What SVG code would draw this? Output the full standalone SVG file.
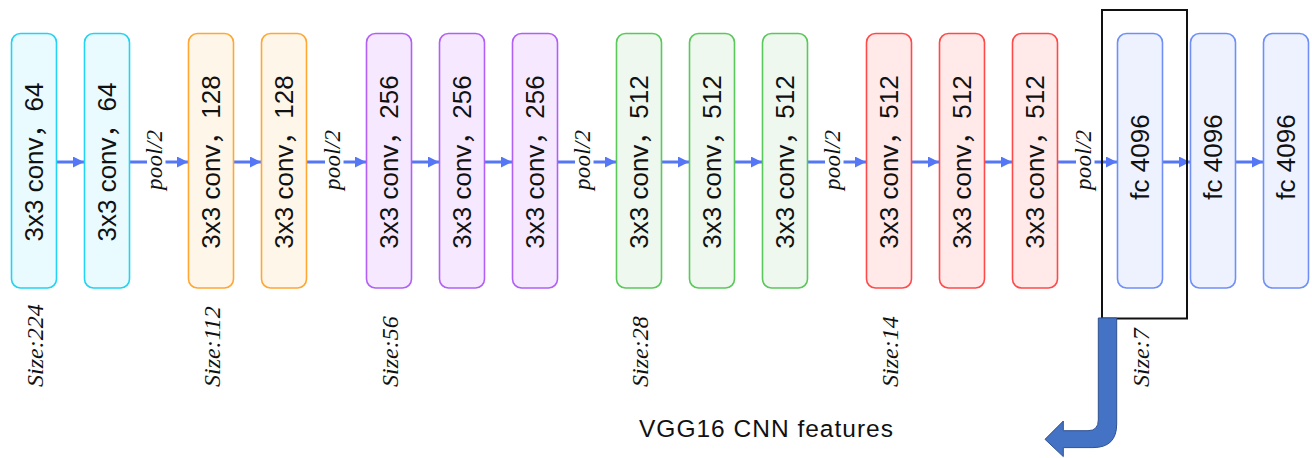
<svg xmlns="http://www.w3.org/2000/svg" width="1312" height="458" viewBox="0 0 1312 458">
<style>
.box{stroke-width:1.6}
.c1{fill:#e9fbff;stroke:#22d3f2}
.c2{fill:#fff6ea;stroke:#ffa733}
.c3{fill:#f6e9ff;stroke:#b160f5}
.c4{fill:#eef8ee;stroke:#5ac85a}
.c5{fill:#ffe9e9;stroke:#ff4a4a}
.c6{fill:#eef2ff;stroke:#6f8ff7}
.lbl{font-family:"Liberation Sans","Noto Sans CJK SC",sans-serif;font-size:26px;fill:#111;text-anchor:middle}
.pool{font-family:"Liberation Serif",serif;font-style:italic;font-size:23px;fill:#111;text-anchor:middle}
.size{font-family:"Liberation Serif",serif;font-style:italic;font-size:24px;fill:#111;text-anchor:start}
.ln{stroke:#5577f5;stroke-width:3;fill:none;marker-end:url(#ah)}
</style>
<defs>
<marker id="ah" markerUnits="userSpaceOnUse" markerWidth="12" markerHeight="12" refX="11" refY="5.5" orient="auto">
<path d="M0,0 L11,5.5 L0,11 Z" fill="#5577f5"/>
</marker>
</defs>
<rect width="1312" height="458" fill="#ffffff"/>

<g id="connectors">
<line class="ln" x1="57" y1="162" x2="84" y2="162"/>
<line class="ln" x1="130" y1="162" x2="188" y2="162"/>
<line class="ln" x1="234" y1="162" x2="261" y2="162"/>
<line class="ln" x1="307" y1="162" x2="366" y2="162"/>
<line class="ln" x1="412" y1="162" x2="439" y2="162"/>
<line class="ln" x1="485" y1="162" x2="512" y2="162"/>
<line class="ln" x1="558" y1="162" x2="616" y2="162"/>
<line class="ln" x1="662" y1="162" x2="689" y2="162"/>
<line class="ln" x1="735" y1="162" x2="762" y2="162"/>
<line class="ln" x1="808" y1="162" x2="866" y2="162"/>
<line class="ln" x1="912" y1="162" x2="939" y2="162"/>
<line class="ln" x1="985" y1="162" x2="1012" y2="162"/>
<line class="ln" x1="1058" y1="162" x2="1117" y2="162"/>
<line class="ln" x1="1163" y1="162" x2="1190" y2="162"/>
<line class="ln" x1="1236" y1="162" x2="1263" y2="162"/>
<g fill="#ffffff">
<rect x="147" y="126" width="18.5" height="68"/>
<rect x="325" y="126" width="18.5" height="68"/>
<rect x="575" y="126" width="18.5" height="68"/>
<rect x="825" y="126" width="18.5" height="68"/>
<rect x="1076" y="126" width="18.5" height="68"/>
</g>
<text class="pool" transform="translate(161.5,160) rotate(-90)" textLength="60">pool/2</text>
<text class="pool" transform="translate(339.5,160) rotate(-90)" textLength="60">pool/2</text>
<text class="pool" transform="translate(589.5,160) rotate(-90)" textLength="60">pool/2</text>
<text class="pool" transform="translate(839.5,160) rotate(-90)" textLength="60">pool/2</text>
<text class="pool" transform="translate(1090.5,160) rotate(-90)" textLength="60">pool/2</text>
</g>

<g id="n1"><rect class="box c1" x="11.5" y="33.5" width="45" height="254.5" rx="9"/><text class="lbl" transform="translate(42.5,162) rotate(-90)">3x3 conv，64</text></g>
<g id="n2"><rect class="box c1" x="84.5" y="33.5" width="45" height="254.5" rx="9"/><text class="lbl" transform="translate(115.5,162) rotate(-90)">3x3 conv，64</text></g>
<g id="n3"><rect class="box c2" x="188.5" y="33.5" width="45" height="254.5" rx="9"/><text class="lbl" transform="translate(219.5,162) rotate(-90)">3x3 conv，128</text></g>
<g id="n4"><rect class="box c2" x="261.5" y="33.5" width="45" height="254.5" rx="9"/><text class="lbl" transform="translate(292.5,162) rotate(-90)">3x3 conv，128</text></g>
<g id="n5"><rect class="box c3" x="366.5" y="33.5" width="45" height="254.5" rx="9"/><text class="lbl" transform="translate(397.5,162) rotate(-90)">3x3 conv，256</text></g>
<g id="n6"><rect class="box c3" x="439.5" y="33.5" width="45" height="254.5" rx="9"/><text class="lbl" transform="translate(470.5,162) rotate(-90)">3x3 conv，256</text></g>
<g id="n7"><rect class="box c3" x="512.5" y="33.5" width="45" height="254.5" rx="9"/><text class="lbl" transform="translate(543.5,162) rotate(-90)">3x3 conv，256</text></g>
<g id="n8"><rect class="box c4" x="616.5" y="33.5" width="45" height="254.5" rx="9"/><text class="lbl" transform="translate(647.5,162) rotate(-90)">3x3 conv，512</text></g>
<g id="n9"><rect class="box c4" x="689.5" y="33.5" width="45" height="254.5" rx="9"/><text class="lbl" transform="translate(720.5,162) rotate(-90)">3x3 conv，512</text></g>
<g id="n10"><rect class="box c4" x="762.5" y="33.5" width="45" height="254.5" rx="9"/><text class="lbl" transform="translate(793.5,162) rotate(-90)">3x3 conv，512</text></g>
<g id="n11"><rect class="box c5" x="866.5" y="33.5" width="45" height="254.5" rx="9"/><text class="lbl" transform="translate(897.5,162) rotate(-90)">3x3 conv，512</text></g>
<g id="n12"><rect class="box c5" x="939.5" y="33.5" width="45" height="254.5" rx="9"/><text class="lbl" transform="translate(970.5,162) rotate(-90)">3x3 conv，512</text></g>
<g id="n13"><rect class="box c5" x="1012.5" y="33.5" width="45" height="254.5" rx="9"/><text class="lbl" transform="translate(1043.5,162) rotate(-90)">3x3 conv，512</text></g>
<g id="n14"><rect class="box c6" x="1117.5" y="33.5" width="45" height="254.5" rx="9"/><text class="lbl" transform="translate(1149,157) rotate(-90)">fc 4096</text></g>
<g id="n15"><rect class="box c6" x="1190.5" y="33.5" width="45" height="254.5" rx="9"/><text class="lbl" transform="translate(1222,157) rotate(-90)">fc 4096</text></g>
<g id="n16"><rect class="box c6" x="1263.5" y="33.5" width="45" height="254.5" rx="9"/><text class="lbl" transform="translate(1295,157) rotate(-90)">fc 4096</text></g>

<g id="highlight">
<rect x="1102" y="10" width="85" height="308.5" fill="none" stroke="#111" stroke-width="2"/>
<path d="M1098.3,318 L1116.7,318 L1116.7,424 Q1116.7,447.6 1093,447.6 L1063.3,447.6 L1063.3,456.6 L1045,439.3 L1063.3,421 L1063.3,430.7 L1088,430.7 Q1098.3,430.7 1098.3,420 Z" fill="#4472c4" stroke="#2f528f" stroke-width="1"/>
</g>

<g id="sizes">
<text class="size" transform="translate(42.5,387) rotate(-90)">Size:224</text>
<text class="size" transform="translate(219.5,387) rotate(-90)">Size:112</text>
<text class="size" transform="translate(397.5,387) rotate(-90)">Size:56</text>
<text class="size" transform="translate(647.5,387) rotate(-90)">Size:28</text>
<text class="size" transform="translate(897.5,387) rotate(-90)">Size:14</text>
<text class="size" transform="translate(1148.5,387) rotate(-90)">Size:7</text>
</g>

<text x="639" y="437" font-family="'Liberation Sans',sans-serif" font-size="24.5" fill="#111" textLength="254">VGG16 CNN features</text>
</svg>
